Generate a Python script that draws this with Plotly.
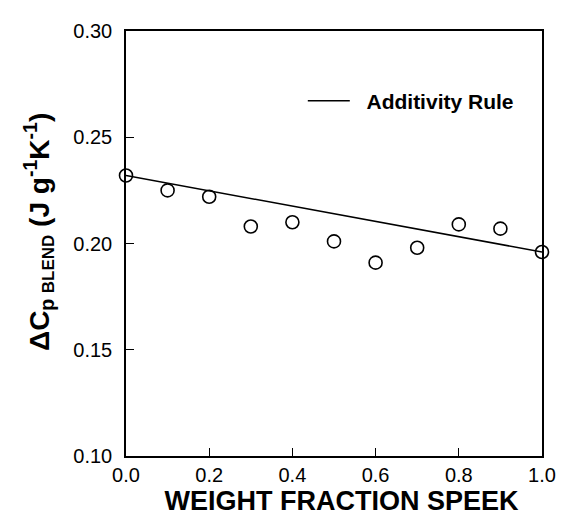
import plotly.graph_objects as go

# Data
weight_fraction = [0.0, 0.1, 0.2, 0.3, 0.4, 0.5, 0.6, 0.7, 0.8, 0.9, 1.0]
delta_cp_blend = [0.232, 0.225, 0.222, 0.208, 0.210, 0.201, 0.191, 0.198, 0.209, 0.207, 0.196]
additivity_x = [0.0, 1.0]
additivity_y = [0.232, 0.196]

x_ticks = [0.0, 0.2, 0.4, 0.6, 0.8, 1.0]
x_ticklabels = ["0.0", "0.2", "0.4", "0.6", "0.8", "1.0"]
y_ticks = [0.10, 0.15, 0.20, 0.25, 0.30]
y_ticklabels = ["0.10", "0.15", "0.20", "0.25", "0.30"]

FONT = "Liberation Sans, Arial, sans-serif"

fig = go.Figure()
fig.add_trace(go.Scatter(
    x=additivity_x, y=additivity_y, mode="lines",
    line=dict(color="black", width=1.5),
    name="&nbsp;&nbsp;<b>Additivity Rule</b>", showlegend=True,
))
fig.add_trace(go.Scatter(
    x=weight_fraction, y=delta_cp_blend, mode="markers",
    marker=dict(symbol="circle-open", size=13, color="black", line=dict(width=1.6, color="black")),
    showlegend=False, cliponaxis=False,
))

# page body has an 8px default margin, so the figure is sized to fit the 568x525 window
fig.update_layout(
    width=560, height=517,
    margin=dict(l=118, r=17, t=14, b=69),
    paper_bgcolor="white", plot_bgcolor="white",
    font=dict(family=FONT, color="black", size=20),
    legend=dict(
        x=0.425, y=0.835, xanchor="left", yanchor="middle",
        itemwidth=42,
        bgcolor="rgba(0,0,0,0)", font=dict(size=21, family=FONT, color="black"),
    ),
    xaxis=dict(
        range=[0, 1.0], tickmode="array", tickvals=x_ticks, ticktext=x_ticklabels,
        ticks="inside", ticklen=8, tickwidth=1.2, tickcolor="black",
        showline=True, linecolor="black", linewidth=1.5, mirror=True,
        showgrid=False, zeroline=False,
        tickfont=dict(size=20, family=FONT),
        title=dict(text="<b>&nbsp;&nbsp;WEIGHT FRACTION SPEEK</b>", font=dict(size=27, family=FONT), standoff=2),
    ),
    yaxis=dict(
        range=[0.10, 0.30], tickmode="array", tickvals=y_ticks, ticktext=y_ticklabels,
        ticks="inside", ticklen=8, tickwidth=1.2, tickcolor="black", ticklabelstandoff=8,
        showline=True, linecolor="black", linewidth=1.5, mirror=True,
        showgrid=False, zeroline=False,
        tickfont=dict(size=20, family=FONT),
        title=dict(
            text="<b>&nbsp;&nbsp;&nbsp;ΔC<sub>p <span style='font-size:17px'>BLEND</span></sub> (J g<sup>-1</sup>K<sup>-1</sup>)</b>",
            font=dict(size=28, family=FONT), standoff=16,
        ),
    ),
)

fig.write_html("out.html")
